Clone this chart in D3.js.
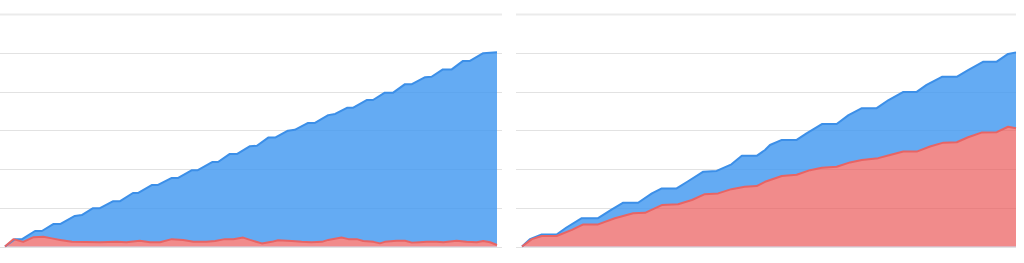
<!DOCTYPE html>
<html>
<head>
<meta charset="utf-8">
<script src="https://cdn.jsdelivr.net/npm/d3@7"></script>
<style>
  html, body { margin: 0; padding: 0; background: #fff; }
  svg { display: block; }
</style>
</head>
<body>
<script>
// [x, value] pairs; x runs 0..100 across each panel
const leftTotal = [[0,0],[2.0,1.86],[3.4,1.86],[6.1,4.0],[7.5,4.0],[9.8,5.8],[11.2,5.8],[14.2,7.9],[15.6,8.1],[17.9,9.9],[19.3,9.9],[22.0,11.7],[23.4,11.7],[26.0,13.8],[27.0,13.8],[29.9,15.9],[31.1,15.9],[33.9,17.7],[35.2,17.7],[38.0,19.7],[39.2,19.7],[42.1,21.8],[43.3,21.8],[45.7,23.9],[47.2,23.9],[49.8,25.9],[51.2,26.0],[53.5,28.1],[54.9,28.1],[57.5,29.9],[58.9,30.1],[61.6,31.9],[63.0,31.9],[65.7,33.9],[67.1,34.2],[69.5,35.8],[70.7,35.8],[73.5,37.8],[74.8,37.8],[77.2,39.7],[78.9,39.7],[81.3,41.9],[82.7,41.9],[85.4,43.7],[86.7,43.8],[89.0,45.7],[90.8,45.7],[93.1,47.9],[94.5,47.9],[97.2,49.9],[100,50.1]];
const leftPart = [[0,0],[1.7,1.9],[3.7,1.2],[5.8,2.4],[7.8,2.5],[9.5,2.1],[11.2,1.7],[13.6,1.2],[19.3,1.1],[22.7,1.2],[24.7,1.1],[27.4,1.5],[29.5,1.1],[31.5,1.1],[33.9,1.9],[36.2,1.7],[38.3,1.2],[41.0,1.2],[42.7,1.4],[44.7,1.9],[46.4,1.9],[48.4,2.3],[49.8,1.7],[52.2,0.8],[54.2,1.2],[55.5,1.6],[58.3,1.4],[60.3,1.2],[62.3,1.1],[64.4,1.2],[65.7,1.7],[68.4,2.3],[69.8,1.9],[71.5,1.9],[72.8,1.4],[74.9,1.2],[76.2,0.8],[77.2,1.2],[79.6,1.5],[81.3,1.5],[82.7,1.0],[84.3,1.1],[85.7,1.2],[87.7,1.2],[89.1,1.1],[91.8,1.5],[93.8,1.2],[95.9,1.1],[97.2,1.4],[98.6,1.1],[100,0.4]];
const rightTotal = [[0,0],[1.6,1.9],[4.0,3.1],[7.0,3.1],[9.0,4.9],[12.1,7.3],[15.4,7.3],[18.2,9.6],[20.5,11.3],[23.5,11.3],[26.3,13.7],[28.3,15.0],[31.3,15.0],[33.7,16.9],[36.7,19.3],[39.4,19.5],[42.4,21.2],[44.5,23.4],[47.5,23.4],[49.2,24.9],[50.2,26.2],[52.6,27.5],[55.6,27.5],[57.6,29.2],[60.7,31.6],[63.7,31.6],[66.1,33.9],[68.8,35.7],[71.8,35.7],[74.2,37.8],[77.2,39.9],[79.9,39.9],[81.9,41.7],[85.0,43.8],[88.0,43.8],[90.3,45.5],[93.4,47.7],[96.1,47.7],[98.4,49.7],[100,50.1]];
const rightPart = [[0,0],[2.0,1.9],[4.0,2.7],[7.0,2.7],[10.1,4.3],[12.4,5.7],[15.4,5.7],[18.8,7.3],[22.5,8.6],[24.9,8.7],[28.3,10.7],[31.6,10.9],[34.4,12.0],[37.0,13.5],[39.7,13.7],[42.4,14.8],[45.1,15.4],[47.5,15.6],[49.2,16.7],[52.6,18.2],[55.6,18.5],[58.3,19.7],[60.7,20.3],[63.7,20.6],[66.4,21.7],[68.8,22.3],[72.1,22.8],[74.5,23.6],[77.2,24.5],[79.9,24.5],[82.6,25.8],[85.3,26.8],[88.0,26.9],[90.3,28.2],[93.0,29.4],[96.1,29.5],[98.4,30.9],[100,30.5]];
const yTicks = [0, 10, 20, 30, 40, 50, 60];

const width = 1024;
const height = 263;

const svg = d3.select("body").append("svg")
  .attr("width", width)
  .attr("height", height);

const y = d3.scaleLinear().domain([0, 60]).range([246.5, 14]);

const panels = [
  { id: "l", total: leftTotal, part: leftPart, grid: [0, 502], plot: [5, 497] },
  { id: "r", total: rightTotal, part: rightPart, grid: [516, 1016], plot: [522, 1016] }
];

panels.forEach(panel => {
  const x = d3.scaleLinear().domain([0, 100]).range(panel.plot);
  const g = svg.append("g");

  const area = d3.area().x(d => x(d[0])).y0(y(0)).y1(d => y(d[1]));
  const line = d3.line().x(d => x(d[0])).y(d => y(d[1]));

  const drawGrid = (target) => {
    target.selectAll("line.grid")
      .data(yTicks)
      .join("line")
      .attr("class", "grid")
      .attr("x1", panel.grid[0])
      .attr("x2", panel.grid[1])
      .attr("y1", d => Math.round(y(d)) + 0.5)
      .attr("y2", d => Math.round(y(d)) + 0.5)
      .style("stroke", d => d === 60 ? "#ebebeb" : "#e2e2e2")
      .attr("stroke-width", d => d === 60 ? 2 : 1);
  };

  drawGrid(g.append("g"));

  // blue (total) area
  g.append("path")
    .datum(panel.total)
    .attr("d", area)
    .style("fill", "rgba(66,153,240,0.82)");

  // knock out the blue under the red area so red sits on white
  svg.append("clipPath")
    .attr("id", "clip-" + panel.id)
    .append("path")
    .datum(panel.part)
    .attr("d", area);

  g.append("path")
    .datum(panel.part)
    .attr("d", area)
    .style("fill", "#fff");

  drawGrid(g.append("g").attr("clip-path", `url(#clip-${panel.id})`));

  g.append("path")
    .datum(panel.part)
    .attr("d", area)
    .style("fill", "rgba(234,84,84,0.68)");

  g.append("path")
    .datum(panel.total)
    .attr("d", line)
    .style("fill", "none")
    .style("stroke", "#3c8fe8")
    .attr("stroke-width", 2)
    .attr("stroke-linejoin", "round");

  g.append("path")
    .datum(panel.part)
    .attr("d", line)
    .style("fill", "none")
    .style("stroke", "#e86464")
    .attr("stroke-width", 2)
    .attr("stroke-linejoin", "round");
});
</script>
</body>
</html>
